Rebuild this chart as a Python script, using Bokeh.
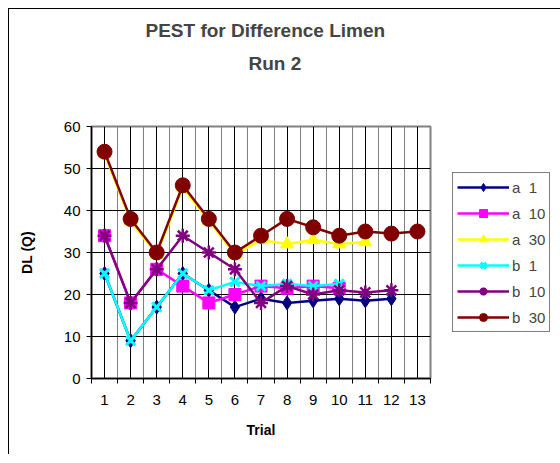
from bokeh.plotting import figure
from bokeh.models import (FixedTicker, Range1d, Legend, LegendItem, Title)
from bokeh.embed import file_html
from bokeh.resources import INLINE

trials_all = [1, 2, 3, 4, 5, 6, 7, 8, 9, 10, 11, 12, 13]
tick_labels = [str(t) for t in trials_all]

a1 = [25, 9, 17, 25, 21, 17, 19, 18, 18.5, 19, 18.5, 19]
a10 = [34, 18, 26, 22, 18, 20, 22, 21.5, 22, 21.5]
a30 = [53.5, 37.5, 29.5, 45.5, 37.5, 29.5, 33, 32, 33, 32, 32.5]
b1 = [25, 9, 17, 25, 21, 23, 22, 22.5, 22, 22.5]
b10 = [34, 18, 26, 34, 30, 26, 18, 22, 20, 21, 20.5, 21]
b30 = [54, 38, 30, 46, 38, 30, 34, 38, 36, 34, 35, 34.5, 35]

series = [
    ("a  1", a1, "#000080", "diamond", 14, 1),
    ("a  10", a10, "#FF00FF", "square", 12, 1),
    ("a  30", a30, "#FFFF00", "triangle", 13, 1),
    ("b  1", b1, "#00FFFF", "x", 13, 3),
    ("b  10", b10, "#800080", "asterisk", 14, 2.5),
    ("b  30", b30, "#800000", "circle", 15, 1),
]

FONT = "Liberation Sans"

p = figure(frame_width=339, frame_height=252, output_backend="svg",
           toolbar_location=None,
           x_range=Range1d(0.5, 13.5), y_range=Range1d(0, 60),
           min_border_left=82, min_border_right=129, min_border_top=117,
           min_border_bottom=76, title=None)
p.styles = {"margin-left": "8px", "margin-top": "8px",
            "border-left": "1px solid black", "border-top": "1px solid black"}

p.add_layout(Title(text=".", text_font=FONT, text_font_size="52px",
                   text_color="white", align="center"), "above")
p.add_layout(Title(text="Run 2", text_font=FONT, text_font_size="19px",
                   text_font_style="bold", text_line_height=1.0,
                   align="left", offset=157), "above")
p.add_layout(Title(text="PEST for Difference Limen", text_font=FONT,
                   text_font_size="19px", text_font_style="bold",
                   align="left", offset=54), "above")

xt = FixedTicker(ticks=trials_all, minor_ticks=[t - 0.5 for t in trials_all] + [13.5])
p.xaxis.ticker = xt
p.xaxis.major_label_overrides = {t: l for t, l in zip(trials_all, tick_labels)}
p.xaxis.major_tick_out = 0
p.xaxis.major_tick_in = 0
p.xaxis.minor_tick_out = 5
p.xaxis.minor_tick_in = 0
p.xaxis.minor_tick_line_color = "black"
p.xaxis.major_label_standoff = 11
p.xaxis.axis_label = "Trial"
p.xaxis.axis_label_standoff = 14

p.yaxis.ticker = FixedTicker(ticks=[0, 10, 20, 30, 40, 50, 60], minor_ticks=[])
p.yaxis.major_tick_out = 5
p.yaxis.major_tick_in = 0
p.yaxis.major_label_standoff = 6
p.yaxis.axis_label = "DL (Q)"
p.yaxis.axis_label_standoff = 26

for ax in (p.xaxis, p.yaxis):
    ax.axis_line_color = "black"
    ax.axis_line_width = 1.5
    ax.major_tick_line_color = "black"
    ax.major_label_text_font = FONT
    ax.major_label_text_font_size = "15px"
    ax.major_label_text_color = "black"
    ax.axis_label_text_font = FONT
    ax.axis_label_text_font_size = "14px"
    ax.axis_label_text_font_style = "bold"
    ax.axis_label_text_color = "black"

p.xgrid.ticker = xt
p.xgrid.grid_line_color = "black"
p.xgrid.grid_line_width = 1
p.xgrid.minor_grid_line_color = "#808080"
p.xgrid.minor_grid_line_width = 1
p.ygrid.grid_line_color = "black"
p.ygrid.grid_line_width = 1

p.outline_line_color = "#808080"
p.outline_line_width = 2
p.background_fill_color = "white"
p.border_fill_color = "white"

items = []
for name, vals, col, mk, sz, lw in series:
    xs = trials_all[:len(vals)]
    lr = p.line(xs, vals, line_color=col, line_width=2.5)
    sr = p.scatter(xs, vals, marker=mk, size=sz, fill_color=col, line_color=col,
                   line_width=lw)
    items.append(LegendItem(label=name, renderers=[lr, sr]))

legend = Legend(items=items, location=(22, 46), orientation="vertical")
legend.label_text_font = FONT
legend.label_text_font_size = "15px"
legend.label_standoff = 3
legend.glyph_width = 52
legend.glyph_height = 20
legend.spacing = 6
legend.padding = 4
legend.margin = 0
legend.border_line_color = "black"
legend.border_line_width = 1
legend.background_fill_color = "white"
p.add_layout(legend, "right")

open("out.html", "w").write(file_html(p, INLINE))
